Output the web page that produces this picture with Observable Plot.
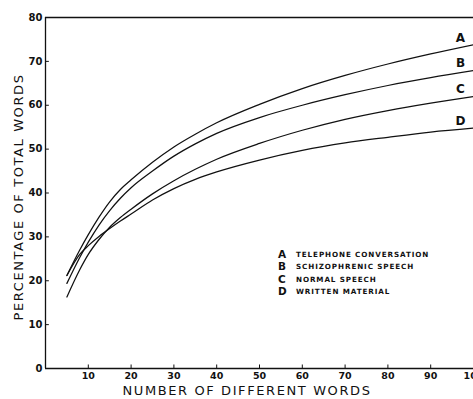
<!DOCTYPE html>
<html>
<head>
<meta charset="utf-8">
<script src="https://cdn.jsdelivr.net/npm/d3@7"></script>
<script src="https://cdn.jsdelivr.net/npm/@observablehq/plot@0.6"></script>
<style>
  html, body { margin: 0; padding: 0; background: #fff; }
  #wrap { position: relative; width: 473px; height: 399px; overflow: hidden; }
  .ttl { position: absolute; font-family: "DejaVu Sans", sans-serif; font-size: 13px; color: #111; white-space: nowrap; letter-spacing: 1.6px; }
  .leg { position: absolute; font-family: "DejaVu Sans", sans-serif; color: #111; white-space: nowrap; }
  .leg .k { position: absolute; left: 0; font-size: 10.5px; font-weight: bold; }
  .leg .v { position: absolute; left: 18px; font-size: 7.2px; font-weight: bold; letter-spacing: 0.9px; top: 2px; }
</style>
</head>
<body>
<div id="wrap"></div>
<script>
// Data
const xWords = [5, 8, 10, 12.5, 15, 17.5, 20, 25, 30, 35, 40, 50, 60, 70, 80, 90, 100];
const seriesA = [21.2, 27, 30.5, 34.5, 38, 40.8, 43, 47, 50.5, 53.4, 56, 60.2, 63.8, 66.8, 69.4, 71.7, 73.8];
const seriesB = [19.4, 25.3, 28.8, 32.7, 36, 38.8, 41.2, 45, 48.4, 51.2, 53.6, 57.2, 60, 62.4, 64.5, 66.3, 67.9];
const seriesC = [16.3, 22.5, 26, 29.4, 32.2, 34.4, 36.3, 39.8, 42.8, 45.4, 47.7, 51.3, 54.3, 56.8, 58.8, 60.5, 62];
const seriesD = [21.2, 26, 28, 30.1, 31.9, 33.6, 35.2, 38.4, 41, 43.1, 44.8, 47.5, 49.7, 51.4, 52.7, 53.9, 54.8];
const seriesKeys = ["A", "B", "C", "D"];
const seriesNames = ["TELEPHONE CONVERSATION", "SCHIZOPHRENIC SPEECH", "NORMAL SPEECH", "WRITTEN MATERIAL"];
const xTicks = [10, 20, 30, 40, 50, 60, 70, 80, 90, 100];
const yTicks = [0, 10, 20, 30, 40, 50, 60, 70, 80];
const xTitle = "NUMBER OF DIFFERENT WORDS";
const yTitle = "PERCENTAGE OF TOTAL WORDS";

const allSeries = [seriesA, seriesB, seriesC, seriesD];
const rows = [];
allSeries.forEach((vals, i) => xWords.forEach((x, j) => rows.push({key: seriesKeys[i], x, y: vals[j]})));
const ends = allSeries.map((vals, i) => ({key: seriesKeys[i], x: xWords[xWords.length - 1], y: vals[vals.length - 1]}));

const tickFont = {fontFamily: "DejaVu Sans, sans-serif", fontSize: 10, fontWeight: "bold", fill: "#111"};

const chart = Plot.plot({
  width: 473,
  height: 399,
  marginLeft: 45,
  marginRight: 0,
  marginTop: 17,
  marginBottom: 31,
  x: {domain: [0, 100]},
  y: {domain: [0, 80]},
  style: {background: "#fff", color: "#111"},
  marks: [
    Plot.axisX({ticks: xTicks, tickSize: 0, tickPadding: 4, label: null, ...tickFont, fontSize: 9.5}),
    Plot.axisY({ticks: yTicks, tickSize: 0, tickPadding: 3, label: null, ...tickFont}),
    Plot.ruleX(xTicks, {x: d => d, y1: 0, y2: 0.8, stroke: "#111", strokeWidth: 1}),
    Plot.ruleY(yTicks, {y: d => d, x1: 0, x2: 0.9, stroke: "#111", strokeWidth: 1}),
    Plot.ruleY([0, 80], {stroke: "#111", strokeWidth: 1.3}),
    Plot.ruleX([0], {stroke: "#111", strokeWidth: 1.3}),
    Plot.line(rows, {x: "x", y: "y", z: "key", curve: "monotone-x", stroke: "#111", strokeWidth: 1.25}),
    Plot.text(ends, {x: "x", y: "y", text: "key", dx: -13, dy: -7, fontFamily: "DejaVu Sans, sans-serif", fontSize: 12, fontWeight: "bold", fill: "#111"})
  ]
});

const wrap = document.getElementById("wrap");
wrap.appendChild(chart);

const xt = document.createElement("div");
xt.className = "ttl";
xt.textContent = xTitle;
xt.style.left = "247px";
xt.style.top = "383px";
xt.style.transform = "translateX(-50%)";
wrap.appendChild(xt);

const yt = document.createElement("div");
yt.className = "ttl";
yt.textContent = yTitle;
yt.style.left = "18px";
yt.style.top = "197px";
yt.style.transform = "translate(-50%, -50%) rotate(-90deg)";
wrap.appendChild(yt);

const leg = document.createElement("div");
leg.className = "leg";
leg.style.left = "278px";
leg.style.top = "248px";
seriesKeys.forEach((k, i) => {
  const k1 = document.createElement("div");
  k1.className = "k"; k1.textContent = k; k1.style.top = (i * 12.3) + "px";
  const v1 = document.createElement("div");
  v1.className = "v"; v1.textContent = seriesNames[i]; v1.style.top = (i * 12.3 + 2) + "px";
  leg.appendChild(k1); leg.appendChild(v1);
});
wrap.appendChild(leg);
</script>
</body>
</html>
